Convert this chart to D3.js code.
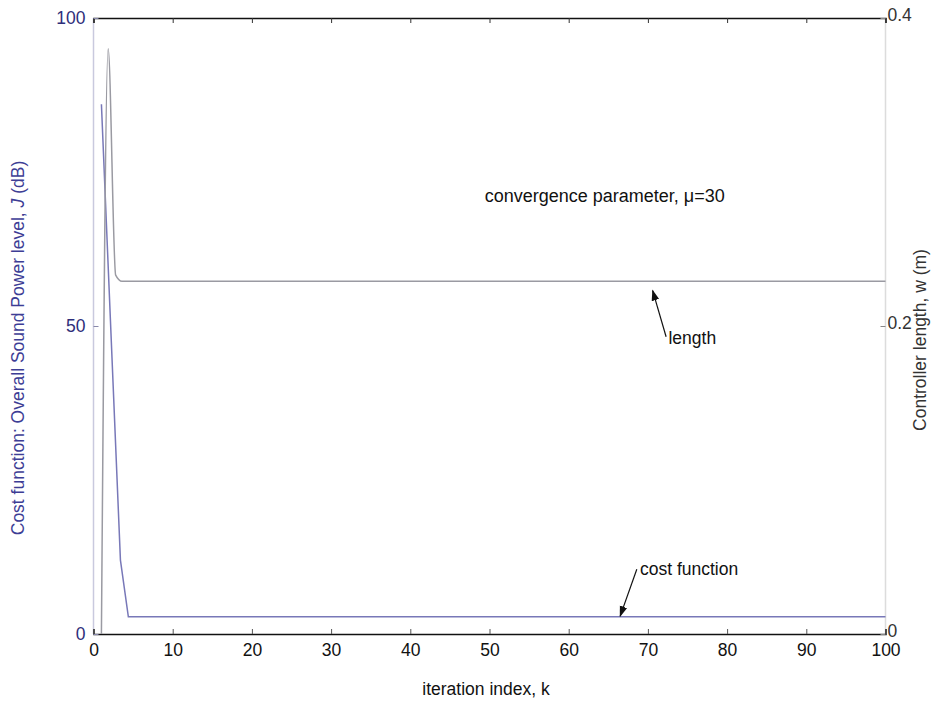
<!DOCTYPE html>
<html>
<head>
<meta charset="utf-8">
<script src="https://cdn.jsdelivr.net/npm/d3@7"></script>
<style>
  html, body { margin: 0; padding: 0; background: #fff; }
  svg text { font-family: "Liberation Sans", Arial, sans-serif; }
</style>
</head>
<body>
<svg id="chart" width="932" height="704"></svg>
<script>
// Cost function J (dB) against iteration index k (left axis)
const costK = [1, 3.4, 4.4, 10, 20, 40, 60, 80, 100];
const costJ = [86, 12, 2.8, 2.8, 2.8, 2.8, 2.8, 2.8, 2.8];

// Controller length w (m) against iteration index k (right axis)
const lengthK = [1, 1.85, 2.8, 3.6, 10, 20, 40, 60, 80, 100];
const lengthW = [0, 0.38, 0.233, 0.229, 0.229, 0.229, 0.229, 0.229, 0.229, 0.229];

const xTicks = [0, 10, 20, 30, 40, 50, 60, 70, 80, 90, 100];
const leftTicks = [0, 50, 100];
const rightTicks = [0, 0.2, 0.4];

const svg = d3.select("#chart");
const L = 93.5, R = 885.5, T = 18, B = 634;
const FS = 17.5;

const x = d3.scaleLinear().domain([0, 100]).range([L, R]);
const yL = d3.scaleLinear().domain([0, 100]).range([B, T]);
const yR = d3.scaleLinear().domain([0, 0.4]).range([B, T]);

// axis frame
svg.append("line").attr("x1", L).attr("x2", L).attr("y1", T).attr("y2", B)
  .attr("stroke", "#c9c9de").attr("stroke-width", 1.5);
svg.append("line").attr("x1", R).attr("x2", R).attr("y1", T).attr("y2", B)
  .attr("stroke", "#dcdcdc").attr("stroke-width", 1.5);

// bottom axis
const bottomAxis = d3.axisBottom(x).tickValues(xTicks).tickSize(-5).tickPadding(10)
  .tickFormat(d3.format("d"));
const gB = svg.append("g").attr("transform", `translate(0,${B})`).call(bottomAxis);
gB.select(".domain").attr("stroke", "#111").attr("stroke-width", 1.5);
gB.selectAll(".tick line").attr("stroke", "#555");
gB.selectAll(".tick text").attr("font-size", FS).attr("fill", "#111")
  .attr("font-family", "Liberation Sans, Arial, sans-serif");

// top axis (ticks only)
const topAxis = d3.axisTop(x).tickValues(xTicks).tickSize(-5).tickFormat("");
const gT = svg.append("g").attr("transform", `translate(0,${T})`).call(topAxis);
gT.select(".domain").attr("stroke", "#111").attr("stroke-width", 1.5);
gT.selectAll(".tick line").attr("stroke", "#333");

// left axis
const leftAxis = d3.axisLeft(yL).tickValues(leftTicks).tickSize(-5).tickPadding(8)
  .tickFormat(d3.format("d"));
const gL = svg.append("g").attr("transform", `translate(${L},0)`).call(leftAxis);
gL.select(".domain").remove();
gL.selectAll(".tick line").attr("stroke", "#8888aa");
gL.selectAll(".tick text").attr("font-size", FS).attr("fill", "#2e2e7a")
  .attr("font-family", "Liberation Sans, Arial, sans-serif");

// right axis (labels sit slightly above their ticks)
const rightAxis = d3.axisRight(yR).tickValues(rightTicks).tickSize(-5).tickPadding(2)
  .tickFormat(d => d === 0 ? "0" : d3.format(".1f")(d));
const gR = svg.append("g").attr("transform", `translate(${R},0)`).call(rightAxis);
gR.select(".domain").remove();
gR.selectAll(".tick line").attr("stroke", "#888");
gR.selectAll(".tick text").attr("font-size", FS).attr("fill", "#333")
  .attr("dy", "0.12em")
  .attr("font-family", "Liberation Sans, Arial, sans-serif");

// series
const costLine = d3.line().x((d, i) => x(costK[i])).y(d => yL(d));
svg.append("path").attr("d", costLine(costJ))
  .attr("fill", "none").attr("stroke", "#7878b8").attr("stroke-width", 1.5);

const lenLine = d3.line().x((d, i) => x(lengthK[i])).y(d => yR(d)).curve(d3.curveMonotoneX);
svg.append("path").attr("d", lenLine(lengthW))
  .attr("fill", "none").attr("stroke", "#9a9aa2").attr("stroke-width", 1.5);

// axis titles
svg.append("text")
  .attr("transform", `translate(24,348) rotate(-90)`)
  .attr("text-anchor", "middle").attr("font-size", FS).attr("fill", "#3d3d95")
  .html('Cost function: Overall Sound Power level, <tspan font-style="italic">J</tspan> (dB)');

svg.append("text")
  .attr("transform", `translate(926,340) rotate(-90)`)
  .attr("text-anchor", "middle").attr("font-size", FS).attr("fill", "#333")
  .text("Controller length, w (m)");

svg.append("text").attr("x", 486).attr("y", 695).attr("text-anchor", "middle")
  .attr("font-size", FS).attr("fill", "#111").text("iteration index, k");

// annotations
svg.append("text").attr("x", x(49.4)).attr("y", yR(0.2805))
  .attr("font-size", 18).attr("fill", "#111").text("convergence parameter, \u03bc=30");

svg.append("defs").append("marker").attr("id", "ah")
  .attr("viewBox", "0 0 10 10").attr("refX", 9).attr("refY", 5)
  .attr("markerWidth", 11).attr("markerHeight", 11).attr("markerUnits", "userSpaceOnUse")
  .attr("orient", "auto")
  .append("path").attr("d", "M0,1.5 L10,5 L0,8.5 Z").attr("fill", "#111");

svg.append("line")
  .attr("x1", x(72.3)).attr("y1", yR(0.193))
  .attr("x2", x(70.6)).attr("y2", yR(0.223))
  .attr("stroke", "#111").attr("stroke-width", 1.2).attr("marker-end", "url(#ah)");
svg.append("text").attr("x", x(72.6)).attr("y", yR(0.188))
  .attr("font-size", FS).attr("fill", "#111").text("length");

svg.append("line")
  .attr("x1", x(68.6)).attr("y1", yL(10.5))
  .attr("x2", x(66.5)).attr("y2", yL(2.9))
  .attr("stroke", "#111").attr("stroke-width", 1.2).attr("marker-end", "url(#ah)");
svg.append("text").attr("x", x(69.0)).attr("y", yL(9.6))
  .attr("font-size", FS).attr("fill", "#111").text("cost function");
</script>
</body>
</html>
